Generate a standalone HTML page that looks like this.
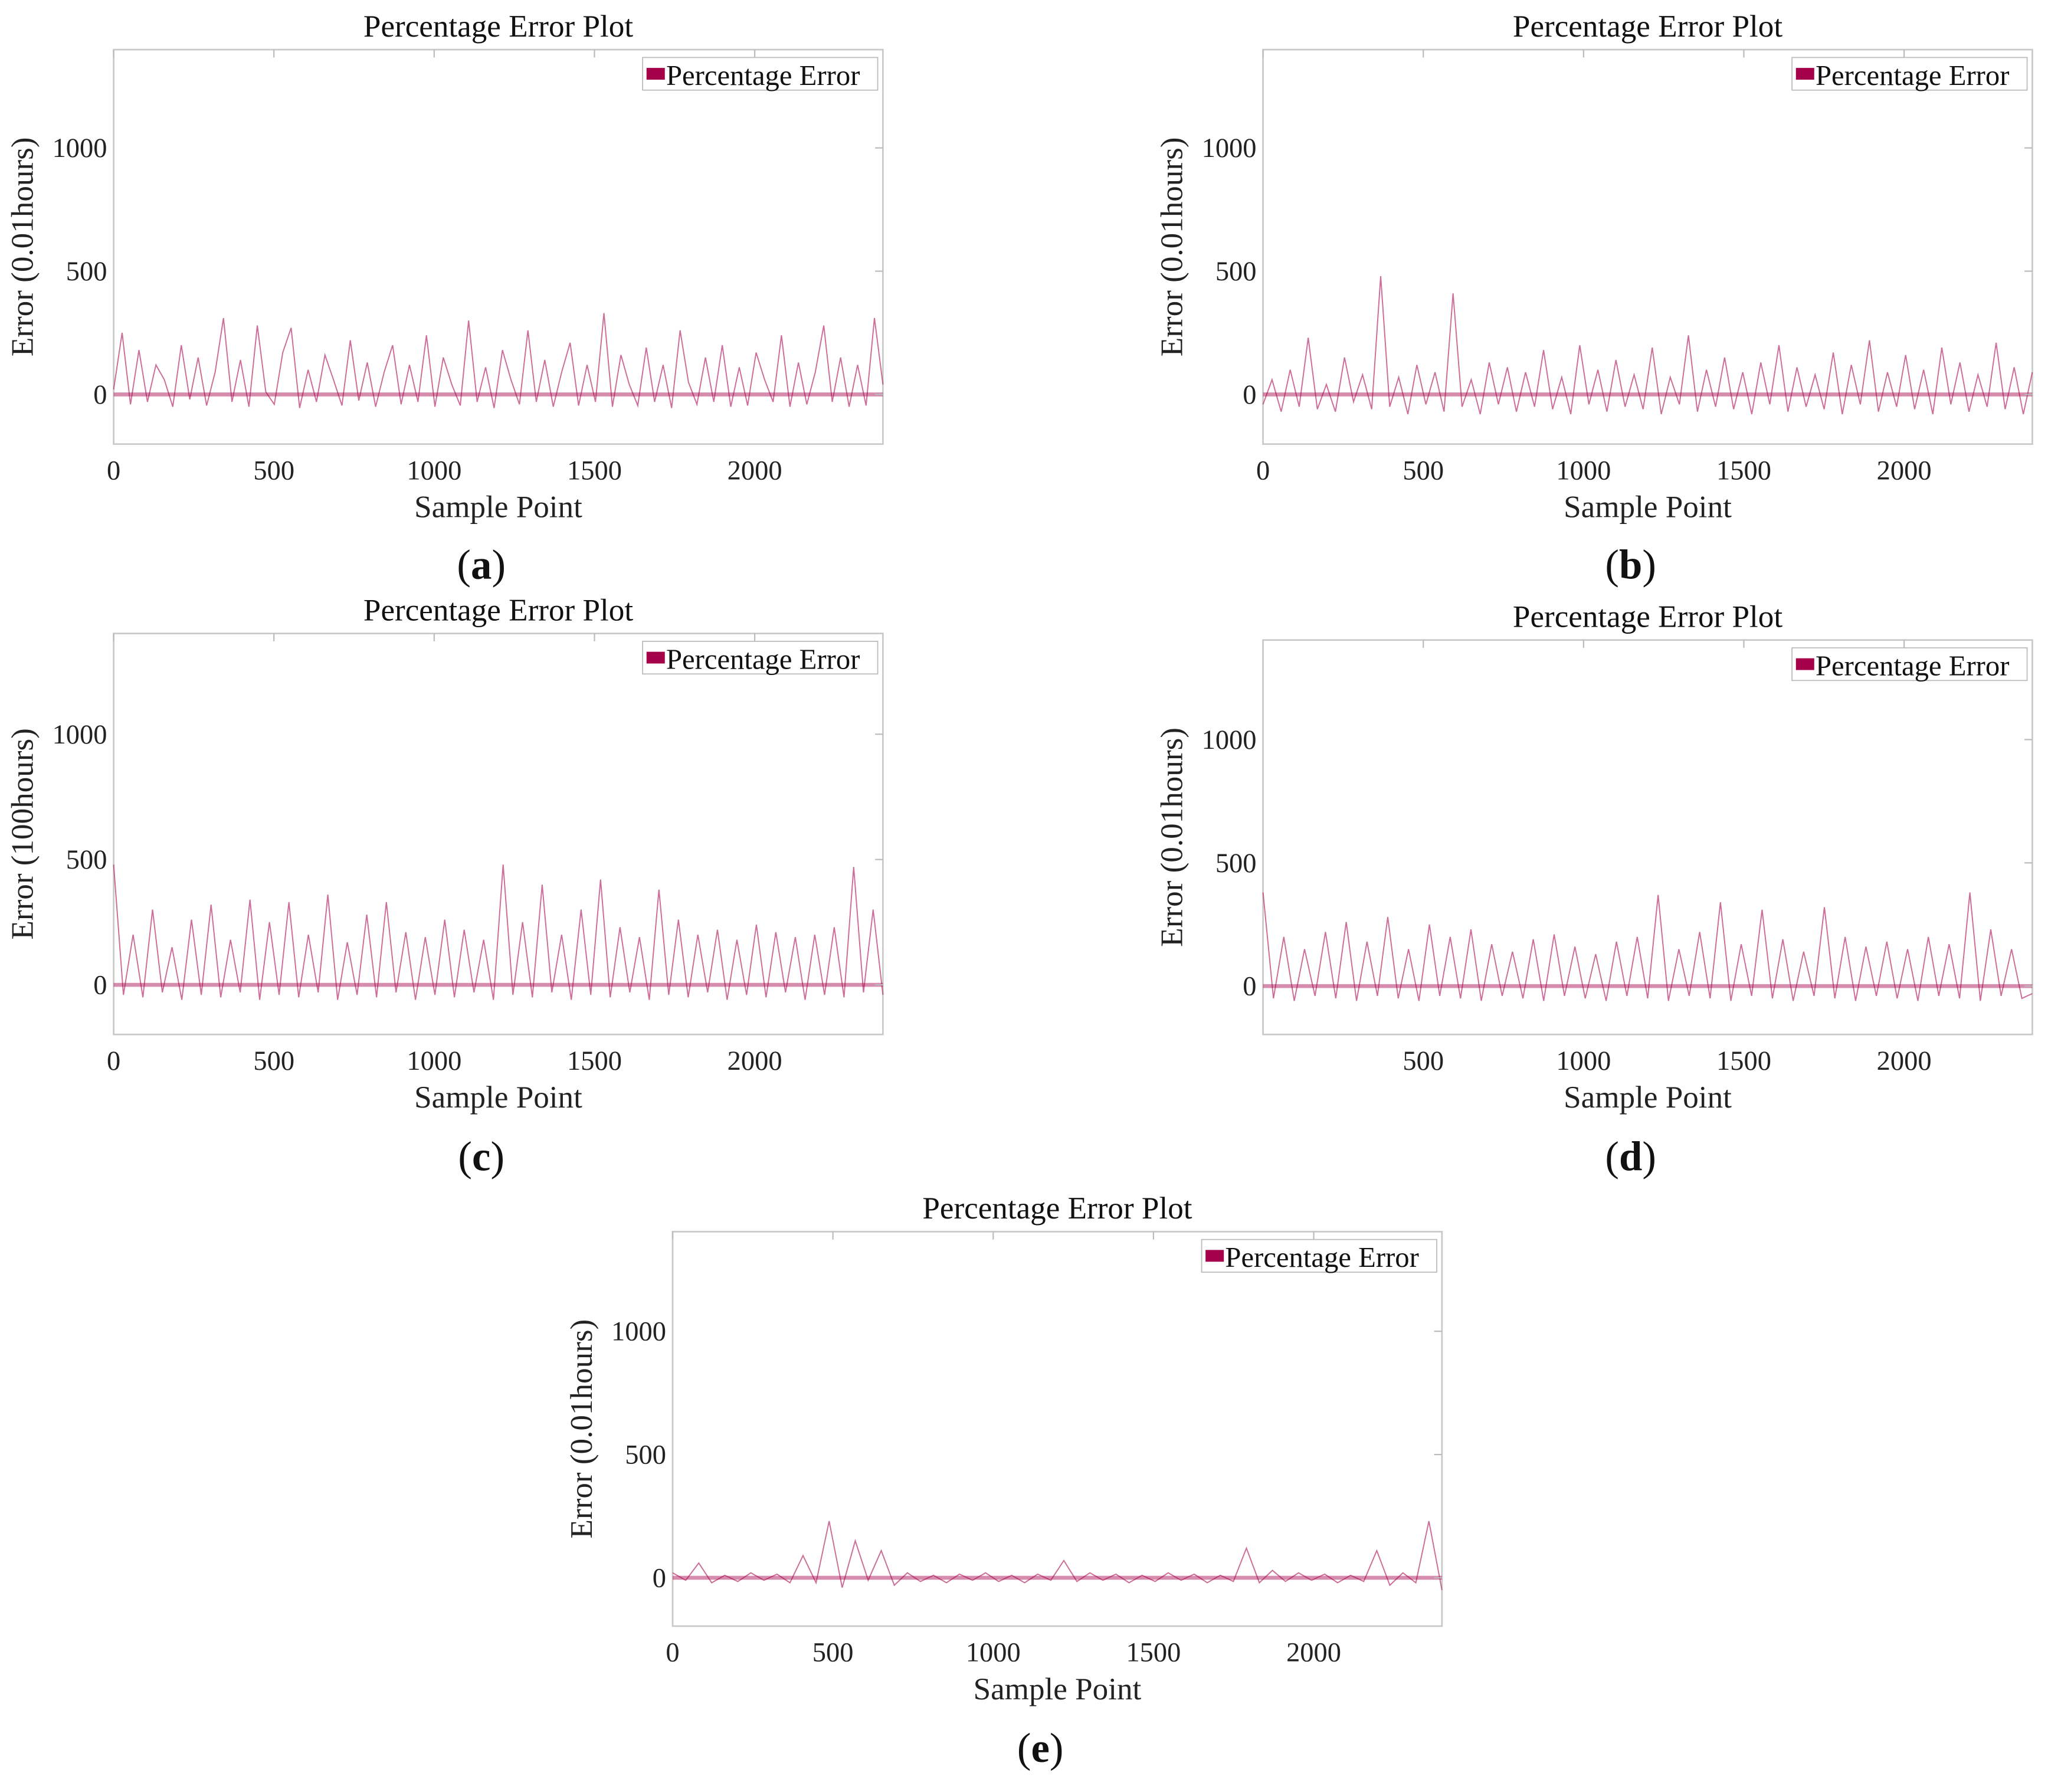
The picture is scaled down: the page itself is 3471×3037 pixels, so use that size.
<!DOCTYPE html>
<html><head><meta charset="utf-8">
<style>
html,body{margin:0;padding:0;background:#fff;}
svg{display:block;font-family:"Liberation Serif",serif;}
</style></head>
<body>
<svg id="fig" width="3471" height="3037" viewBox="0 0 1568 1372" preserveAspectRatio="none" xmlns="http://www.w3.org/2000/svg"></svg>
<script>
const xTicks=[0,500,1000,1500,2000];
const yTicks=[0,500,1000];
const aVals=[20,250,-40,180,-30,120,60,-50,200,-20,150,-45,90,310,-30,140,-50,280,10,-40,170,270,-55,100,-30,160,60,-45,220,-25,130,-50,90,200,-40,120,-30,240,-50,150,40,-45,300,-30,110,-55,180,60,-40,260,-30,140,-50,90,210,-45,120,-30,330,-50,160,40,-45,190,-30,120,-55,260,50,-40,150,-30,200,-50,110,-45,170,60,-30,240,-50,130,-40,90,280,-30,150,-50,120,-45,310,40];
const bVals=[-40,60,-70,100,-50,230,-60,40,-70,150,-30,80,-60,480,-50,70,-80,120,-40,90,-70,410,-50,60,-80,130,-40,110,-70,90,-50,180,-60,70,-80,200,-40,100,-70,140,-50,80,-60,190,-80,70,-40,240,-70,100,-50,150,-60,90,-80,130,-40,200,-70,110,-50,80,-60,170,-80,120,-40,220,-70,90,-50,160,-60,100,-80,190,-40,130,-70,80,-50,210,-60,110,-80,90];
const cVals=[480,-40,200,-50,300,-30,150,-60,260,-40,320,-50,180,-30,340,-60,250,-40,330,-50,200,-30,360,-60,170,-40,280,-50,330,-30,210,-60,190,-40,260,-50,220,-30,180,-60,480,-40,250,-50,400,-30,200,-60,300,-40,420,-50,230,-30,190,-60,380,-40,260,-50,200,-30,220,-60,180,-40,240,-50,210,-30,190,-60,200,-40,230,-50,470,-30,300,-40];
const dVals=[380,-50,200,-60,150,-40,220,-50,260,-60,180,-40,280,-50,150,-60,250,-40,200,-50,230,-60,170,-40,140,-50,190,-60,210,-40,160,-50,130,-60,180,-40,200,-50,370,-60,150,-40,220,-50,340,-60,170,-40,310,-50,190,-60,140,-40,320,-50,200,-60,160,-40,180,-50,150,-60,200,-40,170,-50,380,-60,230,-40,150,-50,-30];
const eVals=[20,-10,60,-20,10,-15,20,-10,15,-20,90,-20,230,-40,150,-10,110,-30,20,-15,10,-20,15,-10,20,-15,10,-20,15,-10,70,-15,20,-10,15,-20,10,-15,20,-10,15,-20,10,-15,120,-20,30,-15,20,-10,15,-20,10,-15,110,-30,20,-20,230,-50];
const panels=[
 {id:'a',vals:aVals,x0:87,y0:38,y1:340,zero:302,ylab:'Error (0.01hours)',labY:443,xt:xTicks},
 {id:'b',vals:bVals,x0:967,y0:38,y1:340,zero:302,ylab:'Error (0.01hours)',labY:443,xt:xTicks},
 {id:'c',vals:cVals,x0:87,y0:485,y1:792,zero:754,ylab:'Error (100hours)',labY:896,xt:xTicks},
 {id:'d',vals:dVals,x0:967,y0:490,y1:792,zero:755,ylab:'Error (0.01hours)',labY:896,xt:[500,1000,1500,2000]},
 {id:'e',vals:eVals,x0:515,y0:943,y1:1245,zero:1208,ylab:'Error (0.01hours)',labY:1349,xt:xTicks}
];
const NS='http://www.w3.org/2000/svg';
const svg=document.getElementById('fig');
function mk(tag,attrs,parent){const e=document.createElementNS(NS,tag);for(const k in attrs)e.setAttribute(k,attrs[k]);(parent||svg).appendChild(e);return e;}
panels.forEach(p=>{
 const W=589;
 const g=mk('g',{});
 
 
 const pxPer=(p.y1-p.y0)/1600;
 const yS=v=>p.zero-v*pxPer;
 const xS=v=>p.x0+v/2400*W;
 const box=mk('rect',{x:p.x0,y:p.y0,width:W,height:p.y1-p.y0,fill:'none',stroke:'#c8c8c8','stroke-width':1.2},g);
 
 
 const n=p.vals.length;
 let d='';
 p.vals.forEach((v,i)=>{d+=(i?'L':'M')+xS(i*2400/(n-1)).toFixed(1)+' '+yS(v).toFixed(1);});
 const ln=mk('path',{d:d,fill:'none',stroke:'#b8306e','stroke-width':0.9,'stroke-opacity':0.7},g);
 
 
 const zl=mk('line',{x1:p.x0,x2:p.x0+W,y1:p.zero,y2:p.zero,stroke:'#a5004a','stroke-width':3,'stroke-opacity':0.45},g);
 
 
 p.xt.forEach(t=>{
  const tx=mk('text',{x:xS(t),y:p.y1+27,'font-size':21,'text-anchor':'middle',fill:'#222'},g);
  tx.textContent=t;
  
  
  mk('line',{x1:xS(t),x2:xS(t),y1:p.y0,y2:p.y0+6,stroke:'#bbb'},g);
 });
 yTicks.forEach(t=>{
  const ty=mk('text',{x:p.x0-5,y:yS(t)+7,'font-size':21,'text-anchor':'end',fill:'#222'},g);
  ty.textContent=t;
  
  
  mk('line',{x1:p.x0+W-6,x2:p.x0+W,y1:yS(t),y2:yS(t),stroke:'#bbb'},g);
 });
 const title=mk('text',{x:p.x0+W/2,y:p.y0-10,'font-size':24,'text-anchor':'middle',fill:'#111'},g);
 title.textContent='Percentage Error Plot';
 
 
 const xl=mk('text',{x:p.x0+W/2,y:p.y1+56,'font-size':24,'text-anchor':'middle',fill:'#222'},g);
 xl.textContent='Sample Point';
 
 
 const cy=(p.y0+p.y1)/2;
 const yl=mk('text',{x:p.x0-62,y:cy,'font-size':24,'text-anchor':'middle',fill:'#222',transform:'rotate(-90 '+(p.x0-62)+' '+cy+')'},g);
 yl.textContent=p.ylab;
 
 
 const lg=mk('g',{},g);
 
 
 mk('rect',{x:p.x0+W-184,y:p.y0+6,width:180,height:25,fill:'#fff',stroke:'#bbb','stroke-width':0.8},lg);
 mk('rect',{x:p.x0+W-181,y:p.y0+14,width:14,height:9,fill:'#a5004a'},lg);
 const lt=mk('text',{x:p.x0+W-166,y:p.y0+27,'font-size':22,fill:'#111'},lg);
 lt.textContent='Percentage Error';
 const pl=mk('text',{x:p.x0+W/2-13,y:p.labY,'font-size':32,'text-anchor':'middle',fill:'#111'},g);
 pl.innerHTML='(<tspan font-weight="bold">'+p.id+'</tspan>)';
 
 
});
</script>
</body></html>
